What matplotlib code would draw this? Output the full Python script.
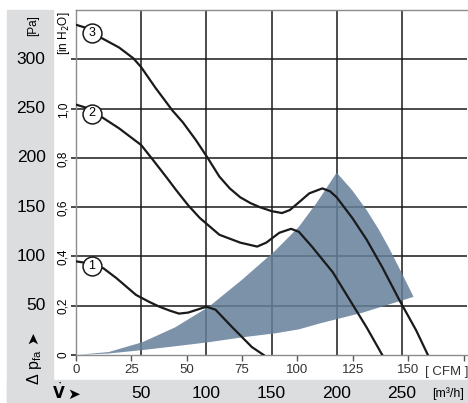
import numpy as np
import matplotlib.pyplot as plt
from matplotlib.patches import Rectangle
from matplotlib.transforms import blended_transform_factory as blend

FONT = ['Liberation Sans Narrow', 'Liberation Sans', 'DejaVu Sans']
plt.rcParams['font.family'] = FONT

# fan curves: flow [m3/h] and static pressure [Pa]
curve1_q = [0, 10, 21, 31, 46, 56, 64, 72, 79, 86, 93, 100, 107, 120, 135, 144]
curve1_p = [95, 93, 88, 78, 61, 54, 49, 45, 42, 43, 46, 49, 46, 28, 8, 0]

curve2_q = [0, 10, 19, 33, 50, 59, 69, 77, 86, 95, 110, 126, 139, 146, 156, 165, 171,
            181, 197, 210, 223, 235]
curve2_p = [254, 250, 242, 230, 213, 198, 181, 167, 152, 139, 122, 114, 110, 114, 124, 128, 125,
            110, 84, 56, 28, 0]

curve3_q = [0, 10, 19, 33, 44, 50, 61, 74, 82, 92, 101, 110, 118, 126, 134, 141, 150, 158, 164,
            172, 179, 189, 195, 200, 212, 223, 235, 248, 261, 270]
curve3_p = [335, 331, 322, 312, 301, 292, 271, 248, 236, 218, 200, 181, 169, 160, 154, 150, 146,
            144, 147, 156, 164, 169, 166, 160, 139, 117, 89, 56, 25, 0]

curve_names = ['1', '2', '3']
label_q = [12.2, 12.2, 12.2]
label_p = [90, 245, 327]

# shaded operating range
lower_q = [0, 25, 51, 77, 102, 128, 153, 171, 187, 220, 259]
lower_p = [0, 1.5, 5, 9, 13, 18, 22, 26, 32, 43, 59]
right_q = [259, 250, 240, 232, 223, 212, 200]
right_p = [59, 83, 109, 128, 147, 167, 185]
upper_q = [185, 171, 153, 128, 102, 76, 51, 25, 0]
upper_p = [155, 130, 106, 77, 49, 28, 13, 3, 0]

pa_ticks = [0, 50, 100, 150, 200, 250, 300]
pa_labels = ['', '50', '100', '150', '200', '250', '300']
inh2o_values = [0, 0.2, 0.4, 0.6, 0.8, 1.0]
inh2o_labels = ['0', '0,2', '0,4', '0,6', '0,8', '1,0']
m3h_ticks = [50, 100, 150, 200, 250]
cfm_ticks = [0, 25, 50, 75, 100, 125, 150, 175]
cfm_labels = ['0', '25', '50', '75', '100', '125', '150', '']

W, H = 468, 403
fig = plt.figure(figsize=(W / 100, H / 100), dpi=100)

# grey frame (left strip + bottom strip)
grey = '#dcdddf'
fig.patches.append(Rectangle((7 / W, 0), 46 / W, 1 - 10 / H, transform=fig.transFigure,
                             color=grey, zorder=0))
fig.patches.append(Rectangle((7 / W, 0), 1, 23 / H, transform=fig.transFigure,
                             color=grey, zorder=0))

ax = fig.add_axes([76 / W, 1 - 355 / H, 391 / W, 345 / H])
ax.set_xlim(0, 300)
ax.set_ylim(0, 350)
ax.patch.set_alpha(0)

ax.vlines(m3h_ticks, 0, 350, color='#1a1a1a', lw=1.1, zorder=1)
ax.hlines(pa_ticks[1:], 0, 300, color='#1a1a1a', lw=1.1, zorder=1)

poly_q = np.concatenate([lower_q, right_q, upper_q])
poly_p = np.concatenate([lower_p, right_p, upper_p])
ax.fill(poly_q, poly_p, color='#647f99', alpha=0.85, lw=0, zorder=2)

for q, p in [(curve1_q, curve1_p), (curve2_q, curve2_p), (curve3_q, curve3_p)]:
    ax.plot(q, p, color='#1a1a1a', lw=1.6, zorder=3, solid_joinstyle='round')

ax.scatter(label_q, label_p, s=185, facecolor='white', edgecolor='#1a1a1a', lw=1.1, zorder=4)
for name, q, p in zip(curve_names, label_q, label_p):
    ax.text(q, p, name, ha='center', va='center', fontsize=9, zorder=5)

for side in ['left', 'top', 'bottom']:
    ax.spines[side].set_color('#8c8c8c')
    ax.spines[side].set_linewidth(1.0)
ax.spines['right'].set_visible(False)

ax.set_yticks(pa_ticks)
ax.set_yticklabels([])
ax.tick_params(axis='y', length=3.6, width=1.1, color='#1a1a1a', direction='out')

ax.set_xticks([c * 1.699 for c in cfm_ticks])
ax.set_xticklabels(cfm_labels, fontsize=9.5, color='#333333')
ax.tick_params(axis='x', length=4.5, width=1.0, color='#555555', direction='out', pad=2)

# pressure labels
ty = blend(fig.transFigure, ax.transData)
for v, lab in zip(pa_ticks, pa_labels):
    fig.text(45.5 / W, v, lab, transform=ty, ha='right', va='center', fontsize=12.5)
for v, lab in zip(inh2o_values, inh2o_labels):
    fig.text(63.5 / W, v * 249, lab, transform=ty, ha='center', va='center',
             rotation=90, fontsize=8.5)
fig.text(33 / W, 1 - 26 / H, '[Pa]', ha='center', va='center', rotation=90, fontsize=8.5)
fig.text(64 / W, 1 - 33 / H, '[in H$_2$O]', ha='center', va='center', rotation=90, fontsize=8.5)
fig.text(34 / W, 1 - 385 / H, '\u0394 p$_{\\mathregular{fa}}$', ha='center', va='bottom',
         rotation=90, fontsize=11.5)
fig.text(33 / W, 1 - 338 / H, '\u27a4', ha='center', va='center', rotation=90, fontsize=11,
         family=['DejaVu Sans'])

# flow labels
tx = blend(ax.transData, fig.transFigure)
for v in m3h_ticks:
    fig.text(v, 1 - 394 / H, str(v), transform=tx, ha='center', va='center', fontsize=12.5)
fig.text(448 / W, 1 - 394 / H, '[m\u00b3/h]', ha='center', va='center', fontsize=9)
fig.text(447 / W, 1 - 372 / H, '[ CFM ]', ha='center', va='center', fontsize=9.5, color='#333333')
fig.text(58.5 / W, 1 - 392 / H, r'$\dot{\mathbf{V}}$', ha='center', va='center', fontsize=11)
fig.text(74 / W, 1 - 394 / H, '\u27a4', ha='center', va='center', fontsize=11,
         family=['DejaVu Sans'])

fig.savefig('out.png', dpi=100)
